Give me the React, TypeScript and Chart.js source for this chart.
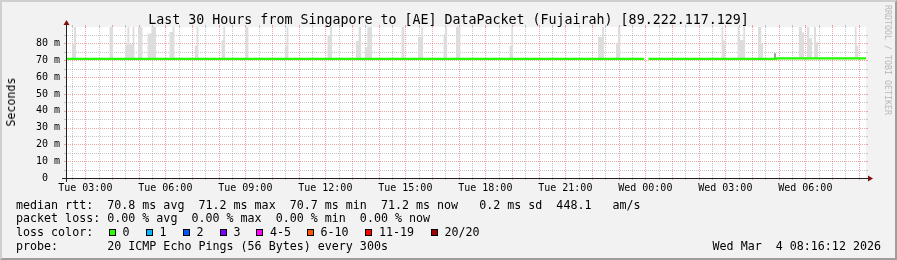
import React, { useEffect, useRef } from 'react';
import { Chart, registerables } from 'chart.js';

Chart.register(...registerables);

// ---- time range (hours since Tue 00:00) ----
const START_H = 2.276;
const END_H = 32.276;
const Y_MAX = 89.8;

// ---- x axis labels ----
const xTickHours = [3, 6, 9, 12, 15, 18, 21, 24, 27, 30];
const xTickLabels = ['Tue 03:00', 'Tue 06:00', 'Tue 09:00', 'Tue 12:00', 'Tue 15:00', 'Tue 18:00', 'Tue 21:00', 'Wed 00:00', 'Wed 03:00', 'Wed 06:00'];

// ---- y axis labels ----
const yTickValues = [0, 10, 20, 30, 40, 50, 60, 70, 80];
const yTickLabels = ['0  ', '10 m', '20 m', '30 m', '40 m', '50 m', '60 m', '70 m', '80 m'];

// ---- median rtt line (ms), null = no data ----
const medianHours = [2.276, 23.96, 24.04, 24.12, 28.9, 28.9, 32.276];
const medianValues = [70.8, 70.8, null, 70.8, 70.8, 71.2, 71.2];

// ---- smoke (ping spread), spikes above the median ----
const smokeBase = 71;
const smokeStart = [2.5, 2.576, 3.9, 4.5, 4.575, 4.65, 4.774, 4.976, 5.325, 5.476, 6.15, 6.274, 7.099, 7.174, 8.1, 8.175, 9.0, 10.474, 10.549, 12.075, 12.175, 13.151, 13.249, 13.473, 13.574, 14.85, 15.476, 15.6, 16.425, 16.5, 16.901, 18.9, 18.975, 22.226, 22.376, 22.901, 22.976, 26.85, 26.925, 27.45, 27.525, 27.675, 28.226, 28.35, 29.749, 29.876, 30.049, 30.15, 30.326, 30.401, 31.848, 31.923];
const smokeEnd = [2.576, 2.651, 4.05, 4.575, 4.65, 4.774, 4.849, 5.149, 5.476, 5.651, 6.274, 6.35, 7.174, 7.249, 8.175, 8.25, 9.125, 10.549, 10.624, 12.175, 12.25, 13.249, 13.35, 13.574, 13.751, 14.974, 15.6, 15.675, 16.5, 16.575, 17.075, 18.975, 19.05, 22.376, 22.451, 22.976, 23.073, 26.925, 27.0, 27.525, 27.675, 27.75, 28.35, 28.425, 29.876, 29.951, 30.15, 30.251, 30.401, 30.476, 31.923, 31.998];
const smokeTop = [80, 90, 90, 79.2, 90, 79.5, 90, 90, 86, 90, 86.8, 90, 78.6, 90, 81.8, 90, 90, 78.2, 90, 84.7, 90, 81.4, 90, 77.9, 90, 90, 83.8, 90, 85.5, 90, 90, 78.5, 90, 83.8, 90, 80.4, 90, 90, 81.7, 90, 82, 90, 90, 79.9, 90, 86.6, 90, 83.1, 90, 80.8, 90, 78.8];

// denser smoke patch
const denseStart = [28.826];
const denseEnd = [28.901];
const denseTop = [74.2];

// ---- legend ----
const lossLabels = ['0', '1', '2', '3', '4-5', '6-10', '11-19', '20/20'];
const lossColors = ['#26ff00', '#00b8ff', '#0059ff', '#7e00ff', '#ff00ff', '#ff5500', '#ff0000', '#a00000'];
const lossBoxX = [108.5, 145.5, 182.5, 219.5, 256, 306.5, 365, 430.5];

const titleText = 'Last 30 Hours from Singapore to [AE] DataPacket (Fujairah) [89.222.117.129]';
const line1 = 'median rtt:  70.8 ms avg  71.2 ms max  70.7 ms min  71.2 ms now   0.2 ms sd  448.1   am/s';
const line2 = 'packet loss: 0.00 % avg  0.00 % max  0.00 % min  0.00 % now';
const line4 = 'probe:       20 ICMP Echo Pings (56 Bytes) every 300s';
const dateText = 'Wed Mar  4 08:16:12 2026';

const MONO = '"DejaVu Sans Mono", monospace';
const MAJOR = 'rgba(224,80,80,0.5)';
const MINOR = 'rgba(144,144,144,0.5)';

function buildSpikes(starts: number[], ends: number[], tops: number[]) {
  const out: any[] = [];
  for (let i = 0; i < starts.length; i++) {
    if (i > 0 && Math.abs(starts[i] - ends[i - 1]) > 0.001) {
      out.push({ x: (starts[i] + ends[i - 1]) / 2, y: null });
    }
    out.push({ x: starts[i], y: tops[i] });
    out.push({ x: ends[i], y: tops[i] });
  }
  return out;
}

export default function App() {
  const ref = useRef<HTMLCanvasElement>(null);

  useEffect(() => {
    const canvas = ref.current;
    if (!canvas) return;

    const medianData = medianHours.map((h, i) => ({ x: h, y: medianValues[i] }));
    const smokeData = buildSpikes(smokeStart, smokeEnd, smokeTop);
    const denseData = buildSpikes(denseStart, denseEnd, denseTop);

    const gridHours: number[] = [];
    for (let h = Math.ceil(START_H * 2) / 2; h <= END_H; h += 0.5) gridHours.push(h);
    const gridMs: number[] = [];
    for (let v = 5; v < Y_MAX; v += 5) gridMs.push(v);

    const bgPlugin = {
      id: 'bg',
      beforeDraw(chart: any) {
        const { ctx, chartArea } = chart;
        ctx.save();
        ctx.fillStyle = '#ffffff';
        ctx.fillRect(chartArea.left, chartArea.top, chartArea.right - chartArea.left, chartArea.bottom - chartArea.top);
        ctx.restore();
      },
    };

    const gridPlugin = {
      id: 'rrdgrid',
      beforeDatasetsDraw(chart: any) {
        const { ctx } = chart;
        const { left, right, top, bottom } = chart.chartArea;
        const xs = chart.scales.x;
        const ys = chart.scales.y;
        ctx.save();
        ctx.lineWidth = 1;
        for (const h of gridHours) {
          const major = Math.abs(h - Math.round(h)) < 1e-6;
          const px = Math.round(xs.getPixelForValue(h)) + 0.5;
          ctx.strokeStyle = major ? MAJOR : MINOR;
          ctx.setLineDash([1, 1]);
          ctx.beginPath();
          ctx.moveTo(px, top);
          ctx.lineTo(px, bottom);
          ctx.stroke();
          ctx.setLineDash([]);
          ctx.beginPath();
          ctx.moveTo(px, top - 2);
          ctx.lineTo(px, top);
          ctx.moveTo(px, bottom);
          ctx.lineTo(px, bottom + 2);
          ctx.stroke();
        }
        for (const v of gridMs) {
          const major = v % 10 === 0;
          const py = Math.round(ys.getPixelForValue(v)) + 0.5;
          ctx.strokeStyle = major ? MAJOR : MINOR;
          ctx.setLineDash([1, 1]);
          ctx.beginPath();
          ctx.moveTo(left, py);
          ctx.lineTo(right, py);
          ctx.stroke();
          ctx.setLineDash([]);
          ctx.beginPath();
          ctx.moveTo(left - 2, py);
          ctx.lineTo(left, py);
          ctx.moveTo(right, py);
          ctx.lineTo(right + 2, py);
          ctx.stroke();
        }
        ctx.restore();
      },
    };

    const axisPlugin = {
      id: 'axes',
      afterDraw(chart: any) {
        const { ctx } = chart;
        const { left, right, top, bottom } = chart.chartArea;
        ctx.save();
        ctx.strokeStyle = '#202020';
        ctx.lineWidth = 1;
        ctx.beginPath();
        ctx.moveTo(left - 4, bottom + 0.5);
        ctx.lineTo(right + 4, bottom + 0.5);
        ctx.stroke();
        ctx.beginPath();
        ctx.moveTo(left + 0.5, bottom + 4);
        ctx.lineTo(left + 0.5, top - 4);
        ctx.stroke();
        ctx.fillStyle = '#801010';
        ctx.beginPath();
        ctx.moveTo(right + 2, bottom + 0.5 - 3);
        ctx.lineTo(right + 2, bottom + 0.5 + 3);
        ctx.lineTo(right + 7, bottom + 0.5);
        ctx.closePath();
        ctx.fill();
        ctx.beginPath();
        ctx.moveTo(left + 0.5 - 3, top - 2);
        ctx.lineTo(left + 0.5 + 3, top - 2);
        ctx.lineTo(left + 0.5, top - 7);
        ctx.closePath();
        ctx.fill();
        ctx.restore();
      },
    };

    const chart = new Chart(canvas, {
      type: 'line',
      data: {
        datasets: [
          {
            label: 'median',
            data: medianData,
            borderColor: '#22ff00',
            backgroundColor: '#22ff00',
            borderWidth: 2.2,
            pointRadius: 0,
            fill: false,
            spanGaps: false,
            tension: 0,
          },
          {
            label: 'dense',
            data: denseData,
            borderColor: 'transparent',
            backgroundColor: '#9c9c9c',
            borderWidth: 0,
            pointRadius: 0,
            fill: { value: smokeBase },
            spanGaps: false,
          },
          {
            label: 'smoke',
            data: smokeData,
            borderColor: 'transparent',
            backgroundColor: '#dddddd',
            borderWidth: 0,
            pointRadius: 0,
            fill: { value: smokeBase },
            spanGaps: false,
          },
        ],
      } as any,
      options: {
        animation: false,
        responsive: false,
        devicePixelRatio: 1,
        events: [],
        layout: { padding: { left: 0, right: 31, top: 27, bottom: 0 } },
        plugins: { legend: { display: false }, tooltip: { enabled: false }, title: { display: false } },
        scales: {
          x: {
            type: 'linear',
            min: START_H,
            max: END_H,
            afterBuildTicks: (s: any) => {
              s.ticks = xTickHours.map((v) => ({ value: v }));
            },
            afterFit: (s: any) => {
              s.height = 82;
            },
            grid: { display: false, drawTicks: false },
            border: { display: false },
            ticks: {
              autoSkip: false,
              maxRotation: 0,
              minRotation: 0,
              padding: 4,
              color: '#000',
              font: { family: MONO, size: 10 },
              callback: (v: any) => {
                const i = xTickHours.findIndex((h) => Math.abs(h - Number(v)) < 1e-6);
                return i >= 0 ? xTickLabels[i] : '';
              },
            },
          },
          y: {
            type: 'linear',
            min: 0,
            max: Y_MAX,
            afterBuildTicks: (s: any) => {
              s.ticks = yTickValues.map((v) => ({ value: v }));
            },
            afterFit: (s: any) => {
              s.width = 66;
            },
            grid: { display: false, drawTicks: false },
            border: { display: false },
            ticks: {
              autoSkip: false,
              padding: 6,
              color: '#000',
              font: { family: MONO, size: 10 },
              callback: (v: any) => {
                const i = yTickValues.findIndex((t) => Math.abs(t - Number(v)) < 1e-6);
                return i >= 0 ? yTickLabels[i] : '';
              },
            },
          },
        },
      } as any,
      plugins: [bgPlugin, gridPlugin, axisPlugin],
    });

    return () => chart.destroy();
  }, []);

  const textBase: React.CSSProperties = {
    position: 'absolute',
    fontFamily: MONO,
    fontSize: '11.67px',
    lineHeight: '14px',
    whiteSpace: 'pre',
    color: '#000',
  };

  return (
    <div style={{ position: 'fixed', left: 0, top: 0, width: 897, height: 260, background: '#f2f2f2', overflow: 'hidden' }}>
      <div
        style={{
          position: 'absolute',
          left: 0,
          top: 0,
          width: 897,
          height: 260,
          boxSizing: 'border-box',
          borderTop: '2px solid #cfcfcf',
          borderLeft: '2px solid #cfcfcf',
          borderRight: '2px solid #9e9e9e',
          borderBottom: '2px solid #9e9e9e',
        }}
      />
      <canvas ref={ref} width={897} height={260} style={{ position: 'absolute', left: 0, top: 0, width: 897, height: 260 }} />
      <div style={{ ...textBase, left: 0, width: 897, top: 12, fontSize: '13.3px', lineHeight: '16px', textAlign: 'center' }}>{titleText}</div>
      <div
        style={{
          ...textBase,
          left: 10.5,
          top: 102,
          transform: 'translate(-50%, -50%) rotate(-90deg)',
        }}
      >
        Seconds
      </div>
      <div
        style={{
          ...textBase,
          left: 887.5,
          top: 60,
          fontSize: '8.3px',
          lineHeight: '10px',
          color: '#b8b8b8',
          transform: 'translate(-50%, -50%) rotate(90deg)',
        }}
      >
        RRDTOOL / TOBI OETIKER
      </div>
      <div style={{ ...textBase, left: 16, top: 197.7 }}>{line1}</div>
      <div style={{ ...textBase, left: 16, top: 211.3 }}>{line2}</div>
      <div style={{ ...textBase, left: 16, top: 225.3 }}>loss color:</div>
      {lossLabels.map((lab, i) => (
        <React.Fragment key={lab}>
          <div
            style={{
              position: 'absolute',
              left: lossBoxX[i],
              top: 229,
              width: 7,
              height: 7,
              boxSizing: 'border-box',
              border: '1px solid #000',
              background: lossColors[i],
            }}
          />
          <div style={{ ...textBase, left: lossBoxX[i] + 14, top: 225.3 }}>{lab}</div>
        </React.Fragment>
      ))}
      <div style={{ ...textBase, left: 16, top: 239 }}>{line4}</div>
      <div style={{ ...textBase, right: 16, top: 239 }}>{dateText}</div>
    </div>
  );
}
